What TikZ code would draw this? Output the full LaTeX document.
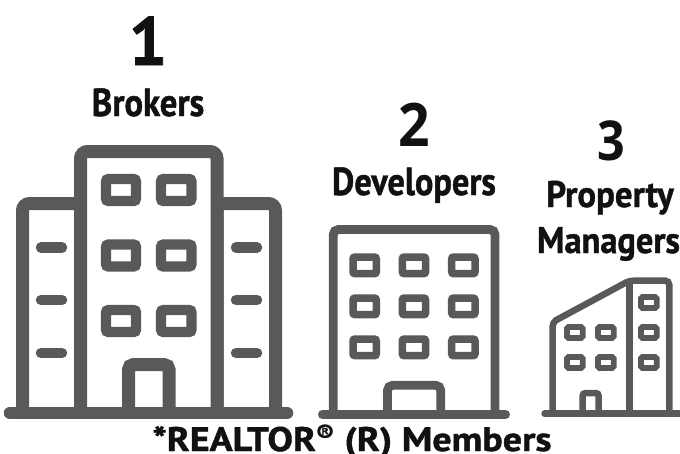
\documentclass[tikz,border=0pt]{standalone}
\usepackage{fontspec}
\setmainfont{PT Sans}[BoldFeatures={FakeBold=1.2}]
\newfontfamily\digitfont{Open Sans}[BoldFont=* Bold]
\definecolor{bld}{HTML}{58595B}
\definecolor{ink}{HTML}{111111}
\tikzset{
  wa/.style={draw=bld,fill=white,line width=13pt,rounded corners=7pt},
  wb/.style={draw=bld,fill=white,line width=8.8pt,rounded corners=5pt},
  wc/.style={draw=bld,fill=white,line width=6.5pt,rounded corners=4pt},
  wina/.style={draw=bld,fill=white,line width=10.3pt,rounded corners=2.5pt},
  winb/.style={draw=bld,fill=white,line width=7.5pt,rounded corners=2pt},
  winc/.style={draw=bld,fill=white,line width=5.7pt,rounded corners=1.5pt},
  basea/.style={draw=bld,line width=12.5pt,line cap=round},
  baseb/.style={draw=bld,line width=9pt,line cap=round},
  basec/.style={draw=bld,line width=6.5pt,line cap=round},
  dasha/.style={draw=bld,line width=10.5pt,line cap=round},
  lab/.style={font=\bfseries,text=ink,inner sep=0pt,align=center,anchor=base},
}
\begin{document}
\begin{tikzpicture}[x=1pt,y=-1pt]
\useasboundingbox (0,0) rectangle (680,453);
\path[clip] (0,0) rectangle (680,453);
% building 1
\draw[wa] (22.5,413) -- (22.5,203.5) -- (80.5,203.5) -- (80.5,413);
\draw[wa] (275.5,413) -- (275.5,203.5) -- (217,203.5) -- (217,413);
\draw[wa] (80.5,413) -- (80.5,151.5) -- (217,151.5) -- (217,413);
\foreach \y in {179,244.5,310}{
  \draw[wina] (106,\y) rectangle (136,\y+22);
  \draw[wina] (161,\y) rectangle (191.5,\y+22);
}
\foreach \y in {247.5,300,353}{
  \draw[dasha] (41,\y) -- (62,\y);
  \draw[dasha] (236,\y) -- (257,\y);
}
\draw[wa,rounded corners=5pt] (128.5,413) -- (128.5,364.5) -- (169,364.5) -- (169,413);
\draw[basea] (10,413) -- (287,413);
% building 2
\draw[wb] (333.3,414) -- (333.3,229.5) -- (495,229.5) -- (495,414);
\foreach \y in {257,298,339}{
  \foreach \x in {353,402.3,451.7}{
    \draw[winb] (\x,\y) rectangle (\x+23.3,\y+16.7);
  }
}
\draw[wb] (387.5,414) -- (387.5,385.3) -- (440.7,385.3) -- (440.7,414);
\draw[baseb] (322.5,414.5) -- (505.5,414.5);
% building 3
\draw[wc] (552.7,413) -- (552.7,322) -- (629.3,280.7) -- (669.3,280.7) -- (669.3,413);
\draw[bld,line width=6.5pt] (629.3,280.7) -- (629.3,413);
\foreach \x/\y in {567/327,598/327,567/357,598/357,641/297,641/327,641/357}{
  \draw[winc] (\x,\y) rectangle (\x+15.7,\y+11);
}
\draw[wc,rounded corners=3pt] (582.5,413) -- (582.5,393) -- (598.7,393) -- (598.7,413);
\draw[basec] (544.5,413.7) -- (680,413.7);
% labels
\node[lab,font=\bfseries\fontsize{68}{68}\selectfont] (n1) at (148,65) {1};
\node[lab,xscale=.89,font=\bfseries\fontsize{39}{39}\selectfont] (t1) at (148,116) {Brokers};
\node[lab,xscale=.92,font=\digitfont\bfseries\fontsize{60}{60}\selectfont] (n2) at (414,146) {2};
\node[lab,xscale=.88,font=\bfseries\fontsize{39}{39}\selectfont] (t2) at (414,195) {Developers};
\node[lab,xscale=.88,font=\digitfont\bfseries\fontsize{55}{55}\selectfont] (n3) at (611,160) {3};
\node[lab,xscale=.94,font=\bfseries\fontsize{37}{37}\selectfont] (t3a) at (610,207) {Property};
\node[lab,xscale=.93,font=\bfseries\fontsize{37}{37}\selectfont] (t3b) at (608.5,253) {Managers};
\node[lab,xscale=1.12,font=\bfseries\fontsize{34}{34}\selectfont] (t4) at (352,451) {*REALTOR\textsuperscript{®} (R) Members};
\end{tikzpicture}
\end{document}
